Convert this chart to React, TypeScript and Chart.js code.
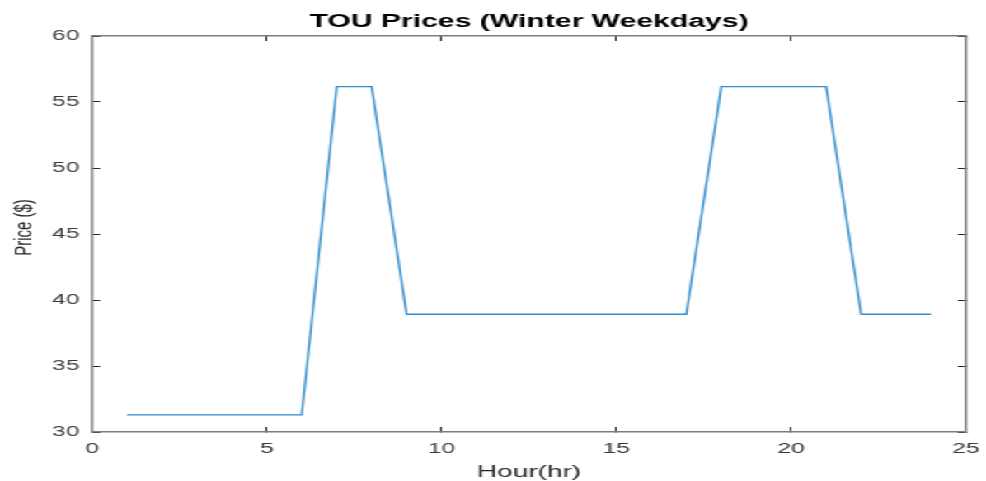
import React, { useEffect, useRef } from "react";
import { Chart, registerables } from "chart.js";

Chart.register(...registerables);

// ---- data ----
const hours = [1, 2, 3, 4, 5, 6, 7, 8, 9, 10, 11, 12, 13, 14, 15, 16, 17, 18, 19, 20, 21, 22, 23, 24];
const prices = [
  31.29, 31.29, 31.29, 31.29, 31.29, 31.29,
  56.16, 56.16,
  38.92, 38.92, 38.92, 38.92, 38.92, 38.92, 38.92, 38.92, 38.92,
  56.16, 56.16, 56.16, 56.16,
  38.92, 38.92, 38.92,
];
const xTicks = [0, 5, 10, 15, 20, 25];
const yTicks = [30, 35, 40, 45, 50, 55, 60];
const chartTitle = "TOU Prices (Winter Weekdays)";
const xTitle = "Hour(hr)";
const yTitle = "Price ($)";

// The reference is horizontally stretched; render narrower and scale.
const OUT_W = 986;
const OUT_H = 481;
const W = 598;
const S = OUT_W / W;

const FONT = "'Liberation Sans', Arial, Helvetica, sans-serif";
const BORDER = "#7d7d7d";
const TICKC = "#262626";

const yTitlePlugin = {
  id: "yTitleShifted",
  afterDraw(chart: any) {
    const ctx = chart.ctx;
    const area = chart.chartArea;
    ctx.save();
    ctx.translate(15, (area.top + area.bottom) / 2 - 6.5);
    ctx.rotate(-Math.PI / 2);
    ctx.font = `15px ${FONT}`;
    ctx.fillStyle = "#262626";
    ctx.textAlign = "center";
    ctx.textBaseline = "middle";
    ctx.fillText(yTitle, 0, 0);
    ctx.restore();
  },
};

export default function App() {
  const ref = useRef<HTMLCanvasElement | null>(null);

  useEffect(() => {
    const canvas = ref.current;
    if (!canvas) return;
    const leftW = 92 / S;
    const rightW = W - 966 / S;

    const gridOpts = {
      drawOnChartArea: false,
      drawTicks: true,
      tickLength: -5,
      color: TICKC,
      tickColor: TICKC,
      lineWidth: 1,
    };
    const borderOpts = { display: true, color: BORDER, width: 1.5 };
    const noPad = (s: any) => {
      s.paddingLeft = 0;
      s.paddingRight = 0;
      s.paddingTop = 0;
      s.paddingBottom = 0;
    };

    const chart = new Chart(canvas, {
      type: "line",
      data: {
        datasets: [
          {
            data: hours.map((h, i) => ({ x: h, y: prices[i] })),
            borderColor: "#2f8bcc",
            borderWidth: 1.3,
            pointRadius: 0,
            fill: false,
            tension: 0,
          },
        ],
      },
      options: {
        responsive: false,
        animation: false,
        devicePixelRatio: 1,
        layout: { padding: 0 },
        plugins: {
          legend: { display: false },
          tooltip: { enabled: false },
          title: { display: false },
        },
        scales: {
          x: {
            type: "linear",
            position: "bottom",
            min: 0,
            max: 25,
            afterBuildTicks: (s: any) => {
              s.ticks = xTicks.map((v) => ({ value: v }));
            },
            afterFit: (s: any) => {
              s.height = OUT_H - 432;
              noPad(s);
            },
            grid: gridOpts,
            border: borderOpts,
            ticks: {
              padding: 13,
              color: "#3a3a3a",
              font: { family: FONT, size: 15 },
              maxRotation: 0,
              autoSkip: false,
            },
            title: {
              display: true,
              text: xTitle,
              color: "#262626",
              font: { family: FONT, size: 17, lineHeight: 1 },
              padding: { top: 0, bottom: 0 },
            },
          },
          x2: {
            type: "linear",
            position: "top",
            min: 0,
            max: 25,
            afterBuildTicks: (s: any) => {
              s.ticks = xTicks.map((v) => ({ value: v }));
            },
            afterFit: (s: any) => {
              s.height = 36;
              noPad(s);
            },
            grid: gridOpts,
            border: borderOpts,
            ticks: { display: false },
            title: {
              display: true,
              text: chartTitle,
              color: "#000",
              font: { family: FONT, size: 18.3, weight: "bold", lineHeight: 1 },
              padding: { top: 12.5, bottom: 0 },
            },
          },
          y: {
            type: "linear",
            position: "left",
            min: 30,
            max: 60,
            afterBuildTicks: (s: any) => {
              s.ticks = yTicks.map((v) => ({ value: v }));
            },
            afterFit: (s: any) => {
              s.width = leftW;
              noPad(s);
            },
            grid: gridOpts,
            border: borderOpts,
            ticks: {
              padding: 12.5,
              color: "#3a3a3a",
              font: { family: FONT, size: 15 },
              autoSkip: false,
            },
          },
          y2: {
            type: "linear",
            position: "right",
            min: 30,
            max: 60,
            afterBuildTicks: (s: any) => {
              s.ticks = yTicks.map((v) => ({ value: v }));
            },
            afterFit: (s: any) => {
              s.width = rightW;
              noPad(s);
            },
            grid: gridOpts,
            border: borderOpts,
            ticks: { display: false },
          },
        },
      } as any,
      plugins: [yTitlePlugin],
    });
    return () => chart.destroy();
  }, []);

  return (
    <div
      style={{
        position: "fixed",
        left: 0,
        top: 0,
        width: W,
        height: OUT_H,
        background: "#fff",
        transform: `scaleX(${S})`,
        transformOrigin: "0 0",
      }}
    >
      <canvas ref={ref} width={W} height={OUT_H} style={{ width: W, height: OUT_H, display: "block" }} />
    </div>
  );
}
